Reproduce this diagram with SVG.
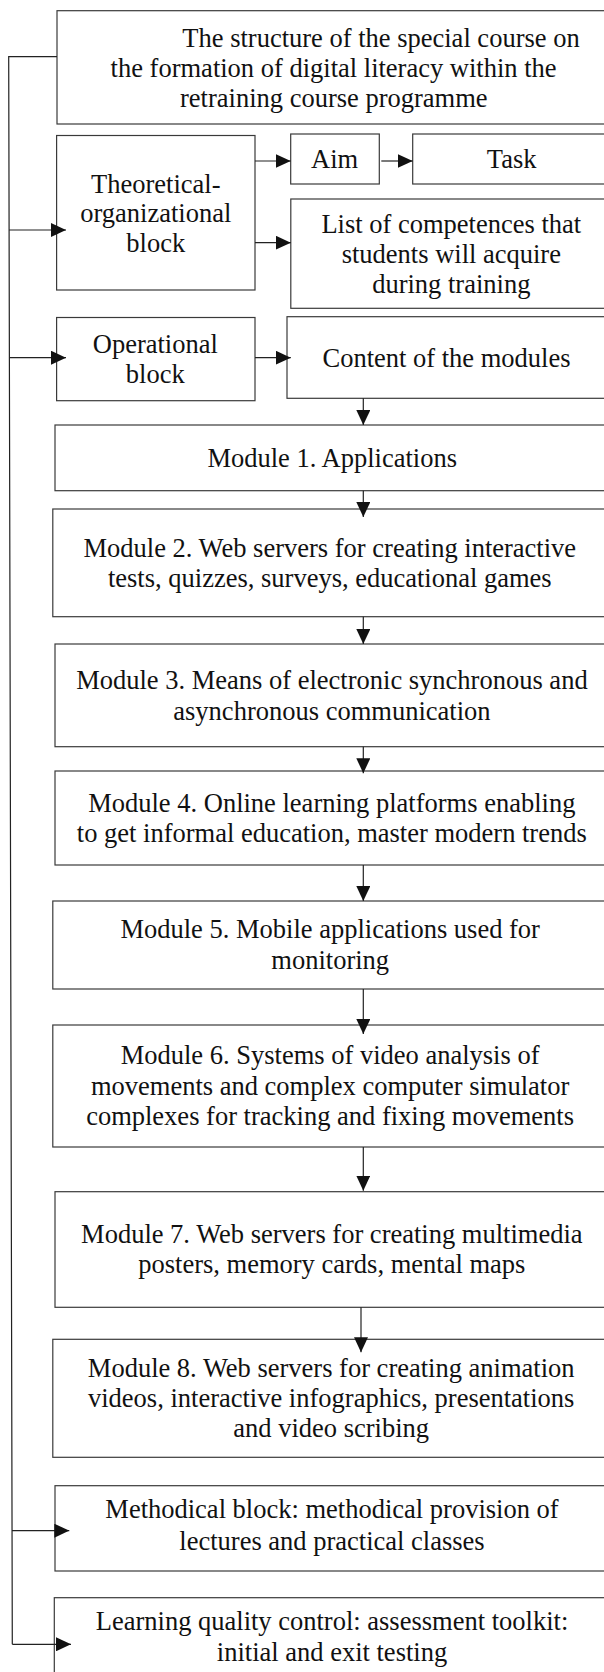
<svg xmlns="http://www.w3.org/2000/svg" width="604" height="1672" viewBox="0 0 604 1672">
<style>
.box{fill:#fff;stroke:#3a3a3a;stroke-width:1.2}
.t{font-family:"Liberation Serif","Times New Roman",serif;font-size:26.5px;fill:#111;text-anchor:middle}
.c{fill:none;stroke:#222;stroke-width:1.2}
</style>
<defs>
<marker id="ah" viewBox="0 0 15 14" refX="15" refY="7" markerWidth="15" markerHeight="14" markerUnits="userSpaceOnUse" orient="auto">
<path d="M0,0 L15,7 L0,14 z" fill="#111"/>
</marker>
</defs>
<rect width="604" height="1672" fill="#fff"/>

<g id="top">
<rect class="box" x="57" y="10.7" width="560" height="113.3"/>
<text class="t"><tspan x="381" y="46.7">The structure of the special course on</tspan><tspan x="333.6" y="77.3">the formation of digital literacy within the</tspan><tspan x="333.8" y="107.3">retraining course programme</tspan></text>
</g>
<g id="theoretical">
<rect class="box" x="56.6" y="135.5" width="198.4" height="154.5"/>
<text class="t"><tspan x="155.8" y="192.7">Theoretical-</tspan><tspan x="155.8" y="221.7">organizational</tspan><tspan x="155.8" y="251.7">block</tspan></text>
</g>
<g id="aim">
<rect class="box" x="290.7" y="134" width="88.6" height="50"/>
<text class="t" x="334.6" y="168.3">Aim</text>
</g>
<g id="task">
<rect class="box" x="412.7" y="134" width="200" height="50"/>
<text class="t" x="511.7" y="168.3">Task</text>
</g>
<g id="competences">
<rect class="box" x="290.8" y="199" width="320" height="109.3"/>
<text class="t"><tspan x="451.3" y="233.3">List of competences that</tspan><tspan x="451.3" y="263.3">students will acquire</tspan><tspan x="451.3" y="293.3">during training</tspan></text>
</g>
<g id="operational">
<rect class="box" x="56.6" y="317.5" width="198.4" height="83.2"/>
<text class="t"><tspan x="155.3" y="352.7">Operational</tspan><tspan x="155.3" y="382.7">block</tspan></text>
</g>
<g id="content">
<rect class="box" x="287" y="316.7" width="325" height="81.6"/>
<text class="t" x="446.5" y="366.7">Content of the modules</text>
</g>
<g id="module1">
<rect class="box" x="55" y="425" width="560" height="65.7"/>
<text class="t" x="332.2" y="466.7">Module 1. Applications</text>
</g>
<g id="module2">
<rect class="box" x="52.8" y="509" width="560" height="107.7"/>
<text class="t"><tspan x="329.8" y="556.7">Module 2. Web servers for creating interactive</tspan><tspan x="329.8" y="586.7">tests, quizzes, surveys, educational games</tspan></text>
</g>
<g id="module3">
<rect class="box" x="55" y="644" width="560" height="102.7"/>
<text class="t"><tspan x="331.9" y="689.3">Module 3. Means of electronic synchronous and</tspan><tspan x="331.9" y="720">asynchronous communication</tspan></text>
</g>
<g id="module4">
<rect class="box" x="55" y="771" width="560" height="94"/>
<text class="t"><tspan x="331.8" y="811.7">Module 4. Online learning platforms enabling</tspan><tspan x="331.8" y="841.7">to get informal education, master modern trends</tspan></text>
</g>
<g id="module5">
<rect class="box" x="52.8" y="901" width="560" height="88"/>
<text class="t"><tspan x="330.2" y="938.3">Module 5. Mobile applications used for</tspan><tspan x="330.2" y="969.3">monitoring</tspan></text>
</g>
<g id="module6">
<rect class="box" x="52.8" y="1025" width="560" height="122"/>
<text class="t"><tspan x="330.1" y="1064.3">Module 6. Systems of video analysis of</tspan><tspan x="330.1" y="1095">movements and complex computer simulator</tspan><tspan x="330.1" y="1125">complexes for tracking and fixing movements</tspan></text>
</g>
<g id="module7">
<rect class="box" x="55" y="1191.7" width="560" height="115.6"/>
<text class="t"><tspan x="331.8" y="1242.7">Module 7. Web servers for creating multimedia</tspan><tspan x="331.8" y="1273.3">posters, memory cards, mental maps</tspan></text>
</g>
<g id="module8">
<rect class="box" x="52.8" y="1339.3" width="560" height="118"/>
<text class="t"><tspan x="331.2" y="1376.7">Module 8. Web servers for creating animation</tspan><tspan x="331.2" y="1406.7">videos, interactive infographics, presentations</tspan><tspan x="331.2" y="1437">and video scribing</tspan></text>
</g>
<g id="methodical">
<rect class="box" x="55" y="1485.7" width="560" height="85.3"/>
<text class="t"><tspan x="332" y="1518.3">Methodical block: methodical provision of</tspan><tspan x="332" y="1550">lectures and practical classes</tspan></text>
</g>
<g id="quality">
<rect class="box" x="54.3" y="1597.7" width="560" height="90"/>
<text class="t"><tspan x="332" y="1630">Learning quality control: assessment toolkit:</tspan><tspan x="332" y="1660.7">initial and exit testing</tspan></text>
</g>

<g id="connectors">
<polyline class="c" points="57,56.7 8.7,56.7 12.3,1644.3"/>
<line class="c" x1="9.1" y1="230" x2="66" y2="230" marker-end="url(#ah)"/>
<line class="c" x1="9.4" y1="357.7" x2="66" y2="357.7" marker-end="url(#ah)"/>
<line class="c" x1="12" y1="1530.7" x2="69.3" y2="1530.7" marker-end="url(#ah)"/>
<line class="c" x1="12.3" y1="1644.3" x2="71" y2="1644.3" marker-end="url(#ah)"/>
<line class="c" x1="255" y1="161" x2="290.7" y2="161" marker-end="url(#ah)"/>
<line class="c" x1="381.3" y1="161" x2="412.7" y2="161" marker-end="url(#ah)"/>
<line class="c" x1="255" y1="242.7" x2="290.8" y2="242.7" marker-end="url(#ah)"/>
<line class="c" x1="255" y1="357.7" x2="290.8" y2="357.7" marker-end="url(#ah)"/>
<line class="c" x1="363.3" y1="398.3" x2="363.3" y2="425" marker-end="url(#ah)"/>
<line class="c" x1="363.3" y1="490.7" x2="363.3" y2="517" marker-end="url(#ah)"/>
<line class="c" x1="363.3" y1="616.7" x2="363.3" y2="644" marker-end="url(#ah)"/>
<line class="c" x1="363.3" y1="746.7" x2="363.3" y2="773.3" marker-end="url(#ah)"/>
<line class="c" x1="363.3" y1="865" x2="363.3" y2="901" marker-end="url(#ah)"/>
<line class="c" x1="363.3" y1="989" x2="363.3" y2="1034" marker-end="url(#ah)"/>
<line class="c" x1="363.3" y1="1147" x2="363.3" y2="1190.7" marker-end="url(#ah)"/>
<line class="c" x1="361" y1="1307.3" x2="361" y2="1352.3" marker-end="url(#ah)"/>
</g>
</svg>
